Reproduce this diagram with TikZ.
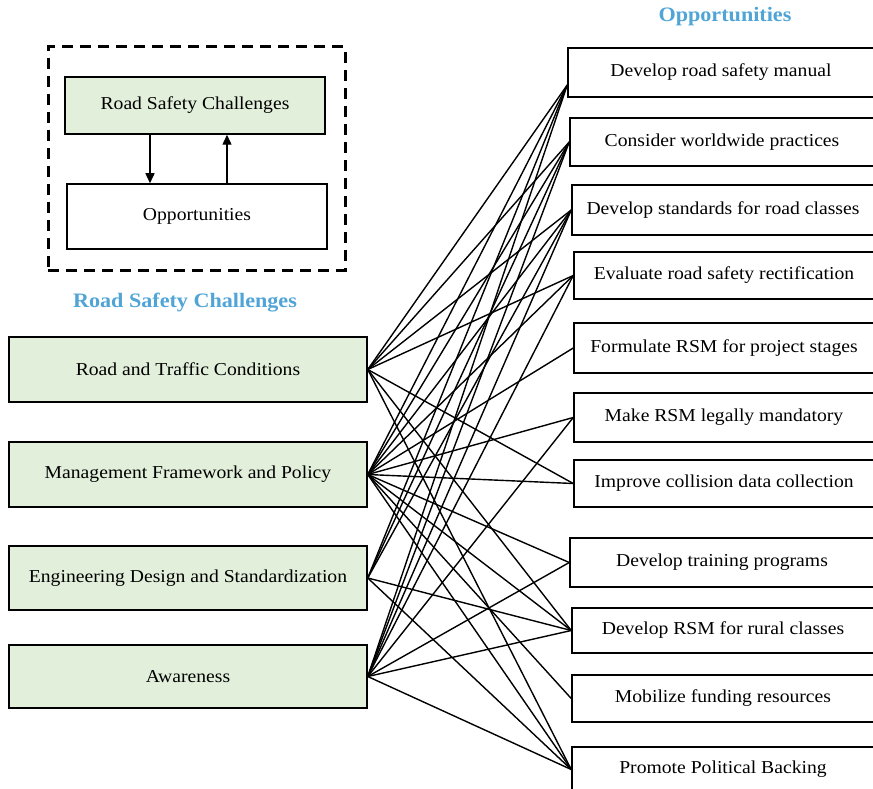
\documentclass[tikz,border=0pt]{standalone}
\usepackage{fontspec}
\setmainfont{Liberation Serif}[FakeStretch=1.08]
\usetikzlibrary{arrows.meta,calc}
\definecolor{chgreen}{RGB}{226,239,218}
\definecolor{headblue}{RGB}{80,164,214}
\begin{document}
\begin{tikzpicture}[x=1pt,y=-1pt,
  box/.style={draw=black,line width=1.5pt,inner sep=0pt,font=\fontsize{18.2}{21}\selectfont},
  challenge/.style={box,fill=chgreen},
  opp/.style={box,fill=white},
  link/.style={line width=1.4pt},
  head/.style={text=headblue,font=\bfseries\fontsize{20.5}{24}\selectfont},
  legendframe/.style={draw=black,line width=3pt,dash pattern=on 11pt off 7pt,inner sep=0pt},
  flow/.style={line width=1.4pt,-{Triangle[length=10pt,width=9pt]}}]
\useasboundingbox (0,0) rectangle (873,789);

% legend
\node[legendframe,minimum width=297pt,minimum height=223pt] (legend) at (196.5,158.5) {};
\node[challenge,minimum width=260pt,minimum height=57pt] (lrsc) at (195,105.5) {Road Safety Challenges};
\node[opp,minimum width=260pt,minimum height=65pt] (lopp) at (197,216.5) {Opportunities};
\draw[flow] (lrsc.south -| 150,0) -- (lopp.north -| 150,0);
\draw[flow] (lopp.north -| 227,0) -- (lrsc.south -| 227,0);

% headings
\node[head] (thead) at (185,303) {Road Safety Challenges};
\node[head] (ohead) at (725,17) {Opportunities};

% challenges
\node[challenge,minimum width=358pt,minimum height=65pt] (c1) at (188,369.5) {Road and Traffic Conditions};
\node[challenge,minimum width=358pt,minimum height=65pt] (c2) at (188,474.5) {Management Framework and Policy};
\node[challenge,minimum width=358pt,minimum height=64pt] (c3) at (188,578) {Engineering Design and Standardization};
\node[challenge,minimum width=358pt,minimum height=63pt] (c4) at (188,676.5) {Awareness};

% opportunities
\node[opp,minimum width=306pt,minimum height=49pt] (o1) at (721,72.5) {Develop road safety manual};
\node[opp,minimum width=304pt,minimum height=48pt] (o2) at (722,142) {Consider worldwide practices};
\node[opp,minimum width=302pt,minimum height=50pt] (o3) at (723,210) {Develop standards for road classes};
\node[opp,minimum width=300pt,minimum height=47pt] (o4) at (724,275.5) {Evaluate road safety rectification};
\node[opp,minimum width=300pt,minimum height=50pt] (o5) at (724,348) {Formulate RSM for project stages};
\node[opp,minimum width=300pt,minimum height=49pt] (o6) at (724,417.5) {Make RSM legally mandatory};
\node[opp,minimum width=300pt,minimum height=47pt] (o7) at (724,483.5) {Improve collision data collection};
\node[opp,minimum width=304pt,minimum height=49pt] (o8) at (722,562.5) {Develop training programs};
\node[opp,minimum width=302pt,minimum height=45pt] (o9) at (723,630.5) {Develop RSM for rural classes};
\node[opp,minimum width=302pt,minimum height=47pt] (o10) at (723,698.5) {Mobilize funding resources};
\node[opp,minimum width=302pt,minimum height=45pt] (o11) at (723,769.5) {Promote Political Backing};

% where the links meet each opportunity box
\coordinate (t1) at ($(o1.west)+(0,12.5)$);
\foreach \n in {2,...,11} {\coordinate (t\n) at (o\n.west);}

% links
\foreach \s/\t in {c1/1,c1/2,c1/3,c1/4,c1/7,c1/9,c1/11,
                   c2/1,c2/2,c2/3,c2/4,c2/5,c2/6,c2/7,c2/8,c2/9,c2/10,c2/11,
                   c3/1,c3/2,c3/3,c3/9,c3/11,
                   c4/1,c4/2,c4/3,c4/4,c4/6,c4/8,c4/9,c4/11}
  {\draw[link] (\s.east) -- (t\t);}
\end{tikzpicture}
\end{document}
